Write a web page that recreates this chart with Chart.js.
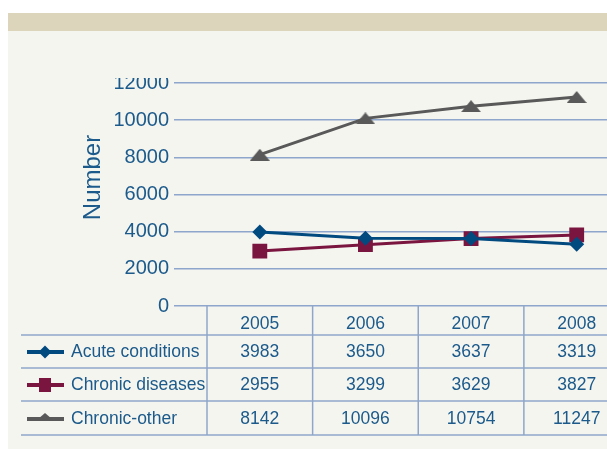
<!DOCTYPE html>
<html>
<head>
<meta charset="utf-8">
<script src="https://cdn.jsdelivr.net/npm/chart.js@4"></script>
<style>
  body { margin: 0; background: #fff; width: 607px; height: 449px; overflow: hidden; position: relative; }
  #band { position: absolute; left: 8px; top: 13px; width: 599px; height: 18px; background: #dcd5bb; }
  #panel { position: absolute; left: 8px; top: 31px; width: 599px; height: 418px; background: #f5f5f0; }
  #clip { position: absolute; left: 0; top: 78px; width: 607px; height: 371px; overflow: hidden; }
  #chart { position: absolute; left: 0; top: -14px; }
</style>
</head>
<body>
<div id="band"></div>
<div id="panel"></div>
<div id="clip"><canvas id="chart" width="640" height="385"></canvas></div>
<script>
const years = ["2005", "2006", "2007", "2008"];
const acute = [3983, 3650, 3637, 3319];
const chronicDiseases = [2955, 3299, 3629, 3827];
const chronicOther = [8142, 10096, 10754, 11247];
const seriesNames = ["Acute conditions", "Chronic diseases", "Chronic-other"];

const textBlue = "#1b5a8a";
const gridBlue = "#8ea6cb";
const colors = ["#004a80", "#7a1540", "#595959"];
const font = "Liberation Sans, Arial, sans-serif";

// flat triangle used as point marker for Chronic-other
function flatTriangle(w, h, color) {
    let c = document.createElement("canvas");
    c.width = w;
    c.height = h;
    let g = c.getContext("2d");
    g.fillStyle = color;
    g.beginPath();
    g.moveTo(w / 2, 0);
    g.lineTo(w, h);
    g.lineTo(0, h);
    g.closePath();
    g.fill();
    return c;
}

const tablePlugin = {
    id: "dataTable",
    afterDraw(chart) {
        let ctx = chart.ctx;
        let area = chart.chartArea;
        let x = chart.scales.x;
        let colW = (area.right - area.left) / years.length;
        let top = area.bottom;
        let rowLines = [top + 29, top + 62, top + 95, top + 129];
        ctx.save();
        ctx.strokeStyle = gridBlue;
        ctx.lineWidth = 1.5;
        // vertical column lines
        for (let i = 0; i <= years.length; i++) {
            let px = area.left + i * colW;
            ctx.beginPath();
            ctx.moveTo(px, top);
            ctx.lineTo(px, rowLines[3]);
            ctx.stroke();
        }
        // horizontal row lines
        rowLines.forEach(y => {
            ctx.beginPath();
            ctx.moveTo(21, y);
            ctx.lineTo(chart.width, y);
            ctx.stroke();
        });

        ctx.fillStyle = textBlue;
        ctx.font = "17.5px " + font;
        ctx.textBaseline = "middle";
        ctx.textAlign = "center";
        let rowMid = [top + 18, rowLines[0] + 17, rowLines[1] + 17, rowLines[2] + 18];
        years.forEach((yr, i) => {
            ctx.fillText(yr, x.getPixelForValue(i), rowMid[0]);
        });
        chart.data.datasets.forEach((ds, r) => {
            ds.data.forEach((v, i) => {
                ctx.fillText(String(v), x.getPixelForValue(i), rowMid[r + 1]);
            });
        });

        // legend keys
        ctx.textAlign = "left";
        chart.data.datasets.forEach((ds, r) => {
            let y = rowMid[r + 1];
            ctx.strokeStyle = colors[r];
            ctx.lineWidth = 4;
            ctx.beginPath();
            ctx.moveTo(27, y);
            ctx.lineTo(64, y);
            ctx.stroke();
            ctx.fillStyle = colors[r];
            ctx.beginPath();
            if (r === 0) {
                ctx.moveTo(45, y - 6.5);
                ctx.lineTo(51.5, y);
                ctx.lineTo(45, y + 6.5);
                ctx.lineTo(38.5, y);
            } else if (r === 1) {
                ctx.rect(39, y - 7, 12, 14);
            } else {
                ctx.moveTo(45, y - 6);
                ctx.lineTo(52, y);
                ctx.lineTo(38, y);
            }
            ctx.closePath();
            ctx.fill();
            ctx.fillStyle = textBlue;
            ctx.fillText(ds.label, 71, y);
        });

        // y axis title
        ctx.save();
        ctx.translate(93, 177.5 - 64);
        ctx.rotate(-Math.PI / 2);
        ctx.textAlign = "center";
        ctx.font = "24px " + font;
        ctx.fillText("Number", 0, 0);
        ctx.restore();
        ctx.restore();
    }
};

new Chart(document.getElementById("chart").getContext("2d"), {
    type: "line",
    data: {
        labels: years,
        datasets: [
            {
                label: seriesNames[0],
                data: acute,
                borderColor: colors[0],
                backgroundColor: colors[0],
                borderWidth: 3,
                pointStyle: "rectRot",
                pointRadius: 7.5,
                pointBorderWidth: 0
            },
            {
                label: seriesNames[1],
                data: chronicDiseases,
                borderColor: colors[1],
                backgroundColor: colors[1],
                borderWidth: 3,
                pointStyle: "rect",
                pointRadius: 10.5,
                pointBorderWidth: 0
            },
            {
                label: seriesNames[2],
                data: chronicOther,
                borderColor: colors[2],
                backgroundColor: colors[2],
                borderWidth: 3,
                pointStyle: flatTriangle(20, 12, colors[2]),
                pointBorderWidth: 0
            }
        ]
    },
    options: {
        responsive: false,
        animation: false,
        devicePixelRatio: 1,
        layout: { padding: { top: 19, bottom: 143, left: 0, right: 9 } },
        plugins: { legend: { display: false }, tooltip: { enabled: false } },
        scales: {
            x: { display: false, offset: true },
            y: {
                min: 0,
                max: 12000,
                ticks: {
                    stepSize: 2000,
                    padding: 5,
                    color: textBlue,
                    font: { family: font, size: 20 },
                    callback: v => String(v)
                },
                grid: { color: gridBlue, lineWidth: 1.5, tickLength: 33 },
                border: { display: false },
                afterFit: s => { s.width = 207; }
            }
        }
    },
    plugins: [tablePlugin]
});
</script>
</body>
</html>
